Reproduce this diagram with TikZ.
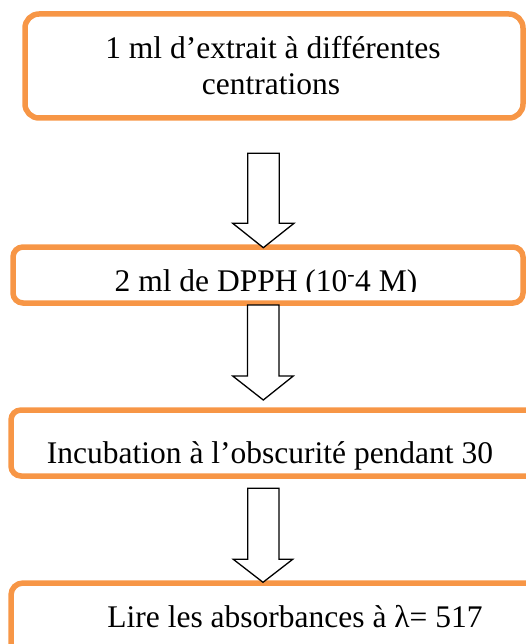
\documentclass[tikz,border=0pt]{standalone}
\usepackage{fontspec}
\setmainfont{Liberation Serif}
\definecolor{boxorange}{HTML}{F79646}
\begin{document}
\begin{tikzpicture}[x=1pt,y=-1pt,
  stepbox/.style={draw=boxorange, line width=5.5pt, fill=white, inner sep=0pt},
  steptext/.style={anchor=base, inner sep=0pt, font=\fontsize{31.5}{36}\selectfont},
  blockarrow/.style={draw=black, line width=1.3pt, fill=white, line join=miter}]
\useasboundingbox (0,0) rectangle (526,644);
\clip (0,0) rectangle (526,644);

% process boxes
\node[stepbox, rounded corners=14pt, minimum width=498pt, minimum height=104pt] (b1) at (274,66) {};
\node[stepbox, rounded corners=10pt, minimum width=510pt, minimum height=56pt] (b2) at (268,275) {};
\node[stepbox, rounded corners=10pt, minimum width=534pt, minimum height=66pt] (b3) at (278,443) {};
\node[stepbox, rounded corners=12pt, minimum width=534pt, minimum height=80pt] (b4) at (278,623) {};

% box texts
\node[steptext] (t1a) at (273,59) {1 ml d’extrait à différentes};
\node[steptext] (t1b) at (271,95) {centrations};
\begin{scope}
  \clip (0,240) rectangle (526,291.5);
  \node[steptext] (t2) at (266,291) {2 ml de DPPH (10\textsuperscript{-}4 M)};
\end{scope}
\node[steptext] (t3) at (270,463) {Incubation à l’obscurité pendant 30};
\node[steptext] (t4) at (295,627) {Lire les absorbances à λ= 517};

% block arrows between the steps
\draw[blockarrow] (247.7,153.3) -- (279.3,153.3) -- (279.3,223.3) -- (294,223.3)
  -- (263.3,247.7) -- (232.7,223.3) -- (247.7,223.3) -- cycle;
\draw[blockarrow] (247.5,305) -- (279,305) -- (279,376) -- (293.3,376)
  -- (263.3,400) -- (232.7,376) -- (247.5,376) -- cycle;
\draw[blockarrow] (247.7,488.3) -- (279,488.3) -- (279,559.3) -- (292.7,559.3)
  -- (263,582.3) -- (233.3,559.3) -- (247.7,559.3) -- cycle;
\end{tikzpicture}
\end{document}
